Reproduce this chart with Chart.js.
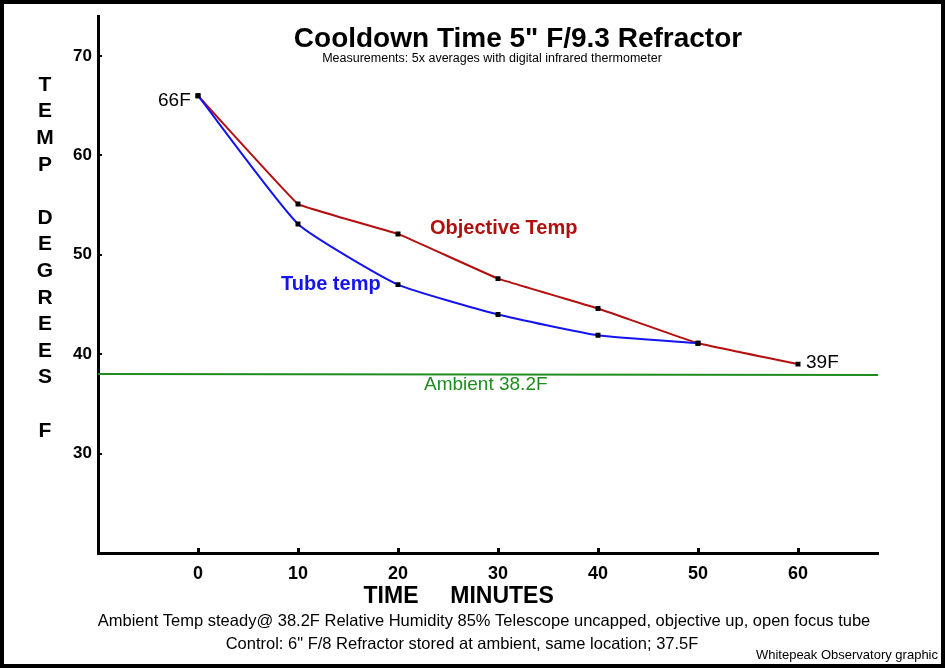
<!DOCTYPE html>
<html>
<head>
<meta charset="utf-8">
<script src="https://cdn.jsdelivr.net/npm/chart.js@4"></script>
<style>
  body { margin: 0; background: #fff; }
  canvas { display: block; }
</style>
</head>
<body>
<canvas id="chartCool" width="945" height="668"></canvas>
<script>
// minutes after bringing the scope out
const minutes = [0, 10, 20, 30, 40, 50, 60];
const objectiveTemp = [66, 55.1, 52.1, 47.6, 44.6, 41.1, 39];
const tubeMinutes = [0, 10, 20, 30, 40, 50];
const tubeTemp = [66, 53.1, 47, 44, 41.9, 41.1];
const ambientMinutes = [-10, 68];
const ambientTemp = [38, 37.9];
const xTicks = [0, 10, 20, 30, 40, 50, 60];
const yTicks = [30, 40, 50, 60, 70];
const yLetters = ['T', 'E', 'M', 'P', '', 'D', 'E', 'G', 'R', 'E', 'E', 'S', '', 'F'];

const FONT = '"Liberation Sans", Arial, sans-serif';
const redColor = '#b40f0f';
const blueColor = '#1414f0';
const greenColor = '#1e8c1e';

function toPoints(xs, ys) {
  return xs.map((x, i) => ({ x: x, y: ys[i] }));
}

const textPlugin = {
  id: 'textPlugin',
  afterDraw(chart) {
    const ctx = chart.ctx;
    const xs = chart.scales.x;
    const ys = chart.scales.y;
    ctx.save();

    // inner tick marks
    ctx.fillStyle = '#000';
    xTicks.forEach((v) => {
      const px = Math.round(xs.getPixelForValue(v));
      ctx.fillRect(px - 1, chart.chartArea.bottom - 5, 3, 5);
    });
    yTicks.forEach((v) => {
      const py = Math.round(ys.getPixelForValue(v));
      ctx.fillRect(chart.chartArea.left + 1, py - 1, 3, 2);
    });

    // title
    ctx.textAlign = 'center';
    ctx.textBaseline = 'middle';
    ctx.fillStyle = '#000';
    ctx.font = 'bold 28px ' + FONT;
    ctx.fillText('Cooldown Time 5" F/9.3 Refractor', 518, 39);
    ctx.font = '12.5px ' + FONT;
    ctx.fillText('Measurements: 5x averages with digital infrared thermometer', 492, 59);

    // vertical axis title, one letter per line
    ctx.font = 'bold 21px ' + FONT;
    yLetters.forEach((ch, i) => {
      ctx.fillText(ch, 45, 85 + i * 26.6);
    });

    // x axis title
    ctx.font = 'bold 23px ' + FONT;
    ctx.fillText('TIME', 391, 597);
    ctx.fillText('MINUTES', 502, 597);

    // notes under the chart
    ctx.font = '16.5px ' + FONT;
    ctx.fillText('Ambient Temp steady@ 38.2F Relative Humidity 85% Telescope uncapped, objective up, open focus tube', 484, 621);
    ctx.fillText('Control: 6" F/8 Refractor stored at ambient, same location; 37.5F', 462, 644);
    ctx.textAlign = 'right';
    ctx.font = '13px ' + FONT;
    ctx.fillText('Whitepeak Observatory graphic', 938, 655);

    // series labels
    ctx.textAlign = 'left';
    ctx.font = '19px ' + FONT;
    ctx.fillText('66F', 158, 101);
    ctx.fillText('39F', 806, 363);
    ctx.fillStyle = greenColor;
    ctx.fillText('Ambient 38.2F', 424, 385);
    ctx.fillStyle = redColor;
    ctx.font = 'bold 20px ' + FONT;
    ctx.fillText('Objective Temp', 430, 228);
    ctx.fillStyle = blueColor;
    ctx.fillText('Tube temp', 281, 284);

    // frame
    ctx.strokeStyle = '#000';
    ctx.lineWidth = 4;
    ctx.strokeRect(2, 2, chart.width - 4, chart.height - 4);
    ctx.restore();
  },
};

const ctxCool = document.getElementById('chartCool').getContext('2d');
const chartCool = new Chart(ctxCool, {
  type: 'line',
  data: {
    datasets: [
      {
        label: 'Ambient',
        data: toPoints(ambientMinutes, ambientTemp),
        borderColor: greenColor,
        borderWidth: 2,
        pointRadius: 0,
        tension: 0,
      },
      {
        label: 'Tube temp',
        data: toPoints(tubeMinutes, tubeTemp),
        borderColor: blueColor,
        borderWidth: 2,
        pointStyle: 'rect',
        pointRadius: 3.5,
        pointBackgroundColor: '#000',
        pointBorderWidth: 0,
        tension: 0.15,
      },
      {
        label: 'Objective Temp',
        data: toPoints(minutes, objectiveTemp),
        borderColor: redColor,
        borderWidth: 2,
        pointStyle: 'rect',
        pointRadius: 3.5,
        pointBackgroundColor: '#000',
        pointBorderWidth: 0,
        tension: 0.05,
      },
    ],
  },
  options: {
    responsive: false,
    animation: false,
    layout: { padding: { left: 20, top: 13, right: 67, bottom: 80 } },
    plugins: {
      legend: { display: false },
      tooltip: { enabled: false },
    },
    scales: {
      x: {
        type: 'linear',
        min: -10,
        max: 68,
        afterBuildTicks: (scale) => {
          scale.ticks = xTicks.map((v) => ({ value: v }));
        },
        afterFit: (scale) => {
          scale.height = 35;
        },
        grid: { display: true, drawOnChartArea: false, drawTicks: false },
        border: { display: true, color: '#000', width: 3 },
        ticks: {
          color: '#000',
          padding: 10,
          maxRotation: 0,
          font: { family: FONT, size: 18, weight: 'bold' },
        },
      },
      y: {
        type: 'linear',
        min: 20,
        max: 74,
        afterBuildTicks: (scale) => {
          scale.ticks = yTicks.map((v) => ({ value: v }));
        },
        afterFit: (scale) => {
          scale.width = 78;
        },
        grid: { display: true, drawOnChartArea: false, drawTicks: false },
        border: { display: true, color: '#000', width: 3 },
        ticks: {
          color: '#000',
          padding: 6,
          font: { family: FONT, size: 17, weight: 'bold' },
        },
      },
    },
  },
  plugins: [textPlugin],
});
</script>
</body>
</html>
